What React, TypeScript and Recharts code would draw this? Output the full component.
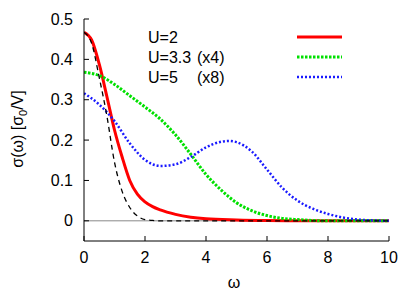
import React from 'react';
import { LineChart, Line, XAxis, YAxis, ReferenceLine } from 'recharts';

// omega grid + sigma values, one pair of arrays per curve
const u2Omega = [0, 0.25, 0.5, 0.75, 1.0, 1.25, 1.5, 1.75, 2.0, 2.25, 2.5, 3.0, 3.5, 4.0, 5.0, 6.0, 7.0, 10];
const u2Sigma = [0.467, 0.448, 0.388, 0.308, 0.225, 0.158, 0.1, 0.066, 0.047, 0.035, 0.027, 0.016, 0.009, 0.005, 0.002, 0.0005, 0, 0];

const u33Omega = [0, 0.5, 1.0, 1.5, 2.0, 2.5, 3.0, 3.5, 4.0, 4.5, 5.0, 5.5, 6.0, 6.5, 7.0, 8.0, 10];
const u33Sigma = [0.368, 0.36, 0.338, 0.31, 0.282, 0.252, 0.213, 0.165, 0.115, 0.076, 0.045, 0.025, 0.013, 0.006, 0.003, 0, 0];

const u5Omega = [0, 0.5, 1.0, 1.5, 2.0, 2.5, 3.0, 3.5, 4.0, 4.5, 4.75, 5.0, 5.5, 6.0, 6.5, 7.0, 7.5, 8.0, 8.5, 9.0, 9.5, 10];
const u5Sigma = [0.316, 0.288, 0.247, 0.192, 0.151, 0.136, 0.14, 0.158, 0.182, 0.196, 0.198, 0.195, 0.172, 0.127, 0.082, 0.05, 0.03, 0.017, 0.008, 0.003, 0.001, 0];

const refOmega = [0, 0.25, 0.5, 0.75, 1.0, 1.25, 1.5, 1.75, 2.0, 2.25, 2.5, 10];
const refSigma = [0.467, 0.44, 0.355, 0.26, 0.145, 0.073, 0.033, 0.012, 0.003, 0.001, 0, 0];

const xTicks = [0, 2, 4, 6, 8, 10];
const yTicks = [0, 0.1, 0.2, 0.3, 0.4, 0.5];

const legendLabels = ['U=2', 'U=3.3', 'U=5'];
const legendFactors = ['', '(x4)', '(x8)'];

const FONT = '"Liberation Sans", Arial, Helvetica, sans-serif';

const toPoints = (xs: number[], ys: number[]) => xs.map((w, i) => ({ w, v: ys[i] }));

const red = toPoints(u2Omega, u2Sigma);
const green = toPoints(u33Omega, u33Sigma);
const blue = toPoints(u5Omega, u5Sigma);
const ref = toPoints(refOmega, refSigma);

const styles = [
  { stroke: '#ff0000', width: 3, dash: undefined as string | undefined },
  { stroke: '#00e000', width: 3, dash: '2.5 1.5' },
  { stroke: '#1a1aff', width: 2.5, dash: '2 2' },
];

const txt = { fontFamily: FONT, fontSize: 16, fill: '#000' };

function KeyBox() {
  return (
    <g>
      {legendLabels.map((lab, i) => (
        <g key={lab}>
          <text x={148} y={43 + i * 20} style={txt}>{lab}</text>
          {legendFactors[i] && <text x={197} y={43 + i * 20} style={txt}>{legendFactors[i]}</text>}
          <line
            x1={297}
            x2={342}
            y1={37 + i * 20}
            y2={37 + i * 20}
            stroke={styles[i].stroke}
            strokeWidth={styles[i].width}
            strokeDasharray={styles[i].dash}
          />
        </g>
      ))}
      {/* axis titles */}
      <text x={234} y={288} textAnchor="middle" style={txt}>ω</text>
      <text transform="translate(23,129) rotate(-90)" textAnchor="middle" style={txt}>
        σ(ω) [σ<tspan style={{ fontSize: 11 }} dy={4}>0</tspan><tspan dy={-4}>/V]</tspan>
      </text>
    </g>
  );
}

export default function App() {
  const tickStyle = { fill: '#000', fontSize: 16, fontFamily: FONT };
  return (
    <div style={{ position: 'absolute', left: 0, top: 0, background: '#fff' }}>
      <LineChart width={415} height={291} margin={{ top: 19, right: 26, bottom: 20, left: 24 }}>
        <XAxis
          dataKey="w"
          type="number"
          domain={[0, 10]}
          ticks={xTicks}
          allowDataOverflow
          height={30}
          tickSize={-5}
          tickMargin={16}
          stroke="#000"
          tick={tickStyle}
        />
        <XAxis
          xAxisId="top"
          orientation="top"
          type="number"
          domain={[0, 10]}
          ticks={xTicks}
          height={0}
          tickSize={-5}
          tick={false}
          stroke="#000"
        />
        <YAxis
          type="number"
          domain={[-0.05, 0.5]}
          ticks={yTicks}
          allowDataOverflow
          width={60}
          tickSize={-5}
          tickMargin={16}
          stroke="#000"
          tick={tickStyle}
          tickFormatter={(v: number) => (v === 0 ? '0' : v.toFixed(1))}
        />
        <YAxis
          yAxisId="right"
          orientation="right"
          type="number"
          domain={[-0.05, 0.5]}
          ticks={yTicks}
          width={0}
          tickSize={-5}
          tick={false}
          stroke="#000"
        />
        <ReferenceLine y={0} stroke="#888" strokeWidth={1} />
        <Line data={red} dataKey="v" type="monotone" stroke={styles[0].stroke} strokeWidth={3} dot={false} isAnimationActive={false} />
        <Line data={green} dataKey="v" type="monotone" stroke={styles[1].stroke} strokeWidth={3} strokeDasharray={styles[1].dash} dot={false} isAnimationActive={false} />
        <Line data={blue} dataKey="v" type="monotone" stroke={styles[2].stroke} strokeWidth={2.5} strokeDasharray={styles[2].dash} dot={false} isAnimationActive={false} />
        <Line data={ref} dataKey="v" type="monotone" stroke="#000" strokeWidth={1.3} strokeDasharray="5 4" dot={false} isAnimationActive={false} />
        <KeyBox />
      </LineChart>
    </div>
  );
}
